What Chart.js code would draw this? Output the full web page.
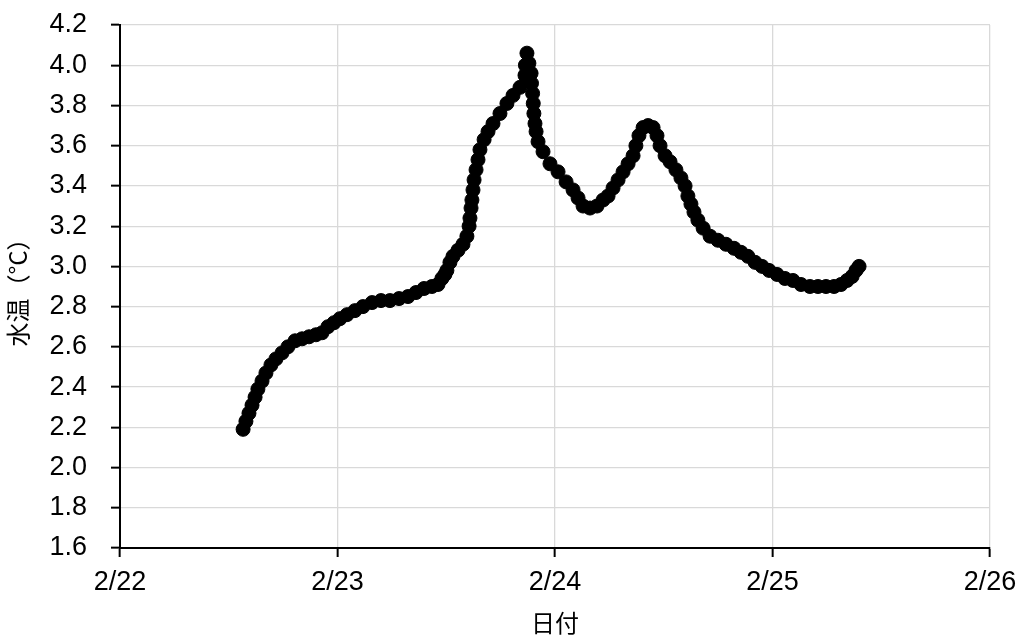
<!DOCTYPE html>
<html>
<head>
<meta charset="utf-8">
<script src="https://cdn.jsdelivr.net/npm/chart.js@4"></script>
<style>
    body { margin: 0; background: #fff; }
    #wrap { width: 1021px; height: 637px; position: relative; }
</style>
</head>
<body>
<div id="wrap"><canvas id="tempChart"></canvas></div>
<script>
// 日付 (day of February, fractional) and water temperature
const dayValues = [
    22.566, 22.579, 22.593, 22.607, 22.621, 22.634, 22.653, 22.671, 22.694, 22.717,
    22.745, 22.772, 22.805, 22.837, 22.869, 22.901, 22.929, 22.956, 22.984, 23.011,
    23.044, 23.080, 23.117, 23.159, 23.200, 23.241, 23.283, 23.324, 23.361, 23.398,
    23.434, 23.462, 23.480, 23.494, 23.503, 23.517, 23.531, 23.554, 23.577, 23.595,
    23.605, 23.609, 23.614, 23.618, 23.623, 23.628, 23.637, 23.646, 23.655, 23.674,
    23.692, 23.715, 23.747, 23.779, 23.807, 23.839, 23.862, 23.864, 23.871, 23.880,
    23.890, 23.892, 23.897, 23.900, 23.903, 23.908, 23.913, 23.922, 23.945, 23.977,
    24.014, 24.051, 24.083, 24.106, 24.129, 24.161, 24.193, 24.221, 24.244, 24.267,
    24.290, 24.313, 24.336, 24.359, 24.372, 24.386, 24.405, 24.428, 24.451, 24.469,
    24.483, 24.506, 24.529, 24.556, 24.579, 24.598, 24.611, 24.625, 24.639, 24.657,
    24.681, 24.713, 24.749, 24.786, 24.823, 24.855, 24.887, 24.920, 24.952, 24.984,
    25.021, 25.057, 25.094, 25.131, 25.172, 25.209, 25.246, 25.283, 25.315, 25.343,
    25.366, 25.384, 25.398
];
const waterTemp = [
    2.19, 2.23, 2.27, 2.31, 2.35, 2.39, 2.43, 2.47, 2.51, 2.54,
    2.57, 2.60, 2.63, 2.64, 2.65, 2.66, 2.67, 2.70, 2.72, 2.74,
    2.76, 2.78, 2.80, 2.82, 2.83, 2.83, 2.84, 2.85, 2.87, 2.89,
    2.90, 2.91, 2.94, 2.96, 2.98, 3.02, 3.05, 3.08, 3.11, 3.15,
    3.20, 3.24, 3.29, 3.33, 3.38, 3.43, 3.48, 3.53, 3.58, 3.63,
    3.67, 3.71, 3.76, 3.81, 3.85, 3.89, 3.95, 4.00, 4.06, 4.01,
    3.96, 3.91, 3.86, 3.81, 3.76, 3.71, 3.67, 3.62, 3.57, 3.51,
    3.47, 3.42, 3.38, 3.34, 3.30, 3.29, 3.30, 3.33, 3.35, 3.39,
    3.43, 3.47, 3.51, 3.55, 3.60, 3.65, 3.69, 3.70, 3.69, 3.65,
    3.60, 3.55, 3.52, 3.48, 3.44, 3.40, 3.35, 3.31, 3.27, 3.23,
    3.19, 3.15, 3.13, 3.11, 3.09, 3.07, 3.05, 3.02, 3.00, 2.98,
    2.96, 2.94, 2.93, 2.91, 2.90, 2.90, 2.90, 2.90, 2.91, 2.93,
    2.95, 2.98, 3.00
];

const xMin = 22, xMax = 26;
const yMin = 1.6, yMax = 4.2, yStep = 0.2;
const xTitle = '日付';
const yTitle = '水温（°C）';

const points = dayValues.map((d, i) => ({ x: d, y: waterTemp[i] }));

const tickFont = { family: '"Liberation Sans", Arial, sans-serif', size: 27 };
const titleFont = { family: '"Noto Sans CJK JP", sans-serif', size: 24 };

new Chart(document.getElementById('tempChart'), {
    type: 'scatter',
    data: {
        datasets: [{
            label: yTitle,
            data: points,
            pointRadius: 7,
            pointBorderWidth: 1,
            pointBackgroundColor: '#000',
            pointBorderColor: '#000',
            showLine: false
        }]
    },
    options: {
        responsive: true,
        maintainAspectRatio: false,
        animation: false,
        layout: { padding: { top: 25, right: 31, left: 0, bottom: 0 } },
        plugins: {
            legend: { display: false },
            tooltip: { enabled: false }
        },
        scales: {
            x: {
                type: 'linear',
                min: xMin,
                max: xMax,
                afterFit: function(scale) {
                    scale.height = 89;
                    scale.paddingLeft = 0;
                    scale.paddingRight = 0;
                },
                grid: { color: '#d9d9d9', lineWidth: 1.3, tickColor: '#000', tickWidth: 2, tickLength: 9 },
                border: { color: '#000', width: 2 },
                ticks: {
                    stepSize: 1,
                    color: '#000',
                    font: tickFont,
                    padding: 9,
                    maxRotation: 0,
                    callback: v => '2/' + v
                },
                title: { display: true, text: xTitle, color: '#000', font: titleFont, padding: { top: 0, bottom: 0 } }
            },
            y: {
                min: yMin,
                max: yMax,
                afterFit: function(scale) {
                    scale.width = 120;
                    scale.paddingTop = 0;
                    scale.paddingBottom = 0;
                },
                grid: { color: '#d9d9d9', lineWidth: 1.3, tickColor: '#000', tickWidth: 2, tickLength: 9 },
                border: { color: '#000', width: 2 },
                ticks: {
                    stepSize: yStep,
                    color: '#000',
                    font: tickFont,
                    padding: 24,
                    callback: v => Number(v).toFixed(1)
                },
                title: { display: true, text: yTitle, color: '#000', font: titleFont, padding: { top: 3, bottom: 0 } }
            }
        }
    }
});
</script>
</body>
</html>
